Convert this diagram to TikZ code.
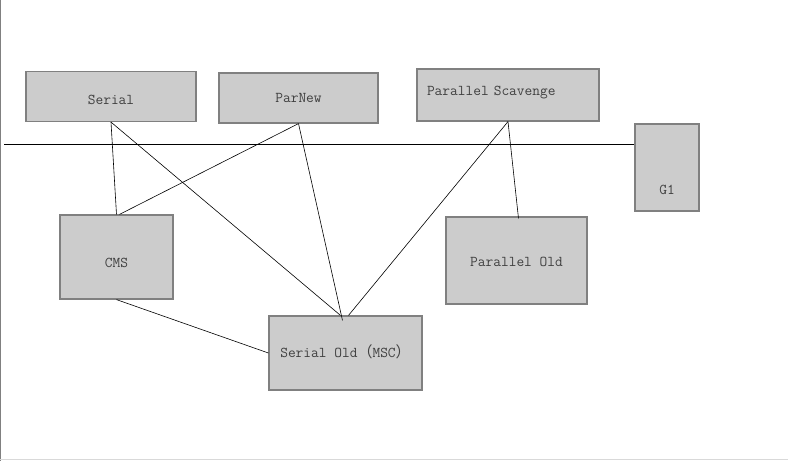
\documentclass[tikz,border=0pt]{standalone}
\usepackage{fontspec}
\newfontfamily\cjk{Noto Sans CJK SC}
\usetikzlibrary{positioning}

\begin{document}
\begin{tikzpicture}[x=1pt,y=-1pt]
\tikzset{basic/.style={draw=black!50,line width=1.2pt,fill=black!20,text=black!75,font=\ttfamily\fontsize{15pt}{15pt}\selectfont,inner sep=0pt,text height=9pt,text depth=0pt}}
\tikzset{young/.style={basic,rectangle,minimum height=50pt}}
\tikzset{old/.style={basic,rectangle}}
\tikzset{link/.style={draw,line width=0.6pt}}
    \useasboundingbox (0,0) rectangle (788,461);
    \path[draw,black!50,line width=1pt] (0.5,0) -- (0.5,461);
    \path[draw,black!15,line width=1pt] (0,459.5) -- (788,459.5);
        % young generation
        \node[young,minimum width=170pt,text height=16pt] (serial) at (111,96.5) {Serial};
        \node[young,minimum width=159pt] (parnew) at (298.5,98) {ParNew};
        \node[young,minimum width=182pt,minimum height=52pt,text width=162pt,inner xsep=10pt,align=left,text depth=8pt] (ps) at (508,95) {Parallel Scavenge};
        \node[old,minimum width=64pt,minimum height=87pt,text height=53pt] (g1) at (667,167.5) {G1};
        % old generation
        \node[old,minimum width=113pt,minimum height=84pt,text height=21pt] (cms) at (116.5,257) {CMS};
        \node[old,minimum width=141pt,minimum height=87pt,text height=12pt] (pold) at (516.5,260.5) {Parallel Old};
        \node[old,minimum width=153pt,minimum height=74pt] (sold) at (345.5,353) {Serial Old{\cjk （}MSC{\cjk ）}};
        % divider
        \coordinate (divl) at (4,144);
            \path[link] (divl) -- (divl -| g1.west);
        % combinations
            \path[link] (serial.south) -- (cms.north);
            \path[link] (serial.south) -- ([xshift=-5pt]sold.north);
            \path[link] (parnew.south) -- ([xshift=3pt]cms.north);
            \path[link] (parnew.south) -- ([xshift=-3pt,yshift=-5pt]sold.north);
            \path[link] (ps.south) -- ([xshift=3pt]sold.north);
            \path[link] (ps.south) -- ([xshift=2pt,yshift=-2pt]pold.north);
            \path[link] (cms.south) -- (sold.west);
\end{tikzpicture}
\end{document}
